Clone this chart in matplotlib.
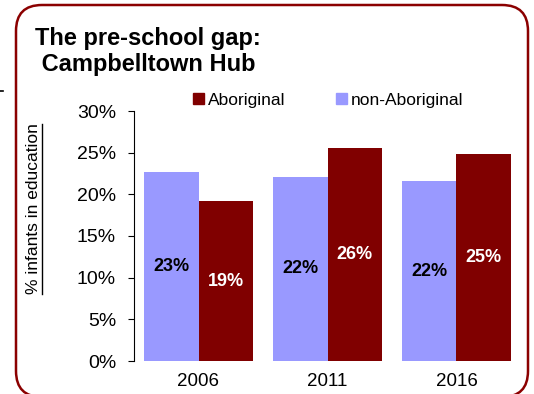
import numpy as np
import matplotlib
matplotlib.use('Agg')
import matplotlib.pyplot as plt
from matplotlib.patches import FancyBboxPatch, Patch
from matplotlib.lines import Line2D
from matplotlib.transforms import IdentityTransform

plt.rcParams['font.family'] = ['Liberation Sans', 'DejaVu Sans']

# Share of infants in early education, Campbelltown Hub
years = ['2006', '2011', '2016']
non_aboriginal = [22.7, 22.1, 21.6]
aboriginal = [19.2, 25.6, 24.8]

col_non = '#9999FF'
col_abo = '#800000'

W, H = 534, 394
fig = plt.figure(figsize=(W / 100, H / 100), dpi=100)
ax = fig.add_axes([134 / W, 33 / H, 387 / W, 250 / H])

x = np.arange(len(years))
width = 0.419
b_non = ax.bar(x - width / 2, non_aboriginal, width, color=col_non)
b_abo = ax.bar(x + width / 2, aboriginal, width, color=col_abo)

ax.bar_label(b_non, fmt='{:.0f}%', label_type='center', fontsize=13, fontweight='bold', color='black')
ax.bar_label(b_abo, fmt='{:.0f}%', label_type='center', fontsize=13, fontweight='bold', color='white')

# Axes formatting
ax.set_xlim(-0.5, 2.5)
ax.set_ylim(0, 30)
ax.set_yticks(range(0, 31, 5))
ax.set_yticklabels([f'{v}%' for v in range(0, 31, 5)])
ax.set_xticks(x)
ax.set_xticklabels(years)
ax.tick_params(axis='y', direction='out', length=4.3, width=0.8, pad=8.6, labelsize=14)
ax.tick_params(axis='x', length=0, pad=9, labelsize=13.5)
for side in ['top', 'right', 'bottom']:
    ax.spines[side].set_visible(False)
ax.spines['left'].set_linewidth(0.8)

# Title, two lines
fig.text(35 / W, 1 - 45 / H, 'The pre-school gap:', fontsize=17, fontweight='bold', va='baseline')
fig.text(35 / W, 1 - 71 / H, ' Campbelltown Hub', fontsize=17, fontweight='bold', va='baseline')

# Legend
handles = [Patch(color=col_abo, label='Aboriginal'), Patch(color=col_non, label='non-Aboriginal')]
fig.legend(handles=handles, loc='center left', bbox_to_anchor=(193 / W, 1 - 100 / H), ncol=2,
           frameon=False, fontsize=12.5, handlelength=0.65, handleheight=0.65, handletextpad=0.2,
           columnspacing=2.9, borderpad=0, borderaxespad=0)

# Underlined y label
ylab = fig.text(34 / W, 1 - 209 / H, '% infants in education', rotation=90, fontsize=12.5,
                ha='center', va='center')
fig.canvas.draw()
bb = ylab.get_window_extent()
fig.add_artist(Line2D([bb.x1 + 0.5, bb.x1 + 0.5], [bb.y0, bb.y1], color='black', lw=1.0,
                      transform=IdentityTransform()))

# Rounded frame around the chart
frame = FancyBboxPatch((16, -3), 512, 392, boxstyle='round,pad=0,rounding_size=26',
                       fill=False, edgecolor='#8B0000', lw=1.8, transform=IdentityTransform())
fig.add_artist(frame)
fig.add_artist(Line2D([0, 3], [H - 91, H - 91], color='black', lw=1.2, transform=IdentityTransform()))

fig.savefig('out.png', dpi=100)
